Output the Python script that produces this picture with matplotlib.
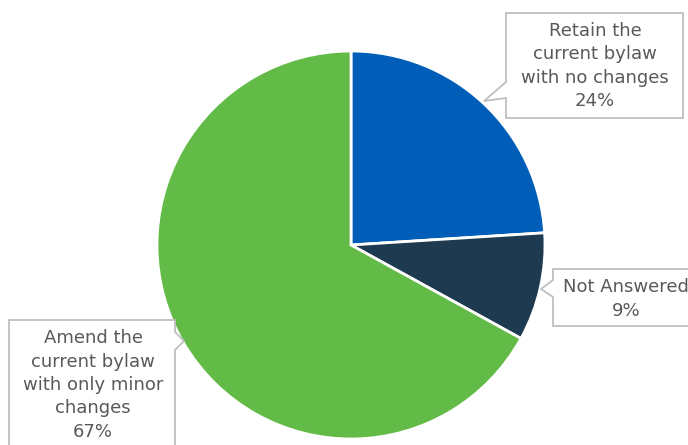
import matplotlib.pyplot as plt
from matplotlib.patches import Polygon

W, H = 688, 445

labels = ['Retain the\ncurrent bylaw\nwith no changes', 'Not Answered',
          'Amend the\ncurrent bylaw\nwith only minor\nchanges']
values = [24, 9, 67]
colors = ['#005EB8', '#1E3A51', '#62BB47']

fig = plt.figure(figsize=(W / 100, H / 100), dpi=100)
ax = fig.add_axes([0, 0, 1, 1])


def Y(y):
    # work in pixel rows counted from the top
    return H - y


ax.pie(values, colors=colors, startangle=90, counterclock=False,
       center=(351, Y(245)), radius=194,
       wedgeprops=dict(edgecolor='white', linewidth=2))


def callout(pts, text_xy, text):
    poly = Polygon([(x, Y(y)) for x, y in pts], closed=True,
                   facecolor='white', edgecolor='#BFBFBF', linewidth=1.3,
                   zorder=3)
    ax.add_patch(poly)
    ax.text(text_xy[0], Y(text_xy[1]), text, ha='center', va='center',
            fontsize=13, color='#595959', linespacing=1.38,
            family='DejaVu Sans', zorder=4)


# speech-bubble boxes with their pointers toward each slice
callout([(506, 13), (683, 13), (683, 118), (506, 118), (506, 98),
         (484, 101), (506, 82)],
        (595, 66), labels[0] + '\n%d%%' % values[0])
callout([(553, 269), (700, 269), (700, 326), (553, 326), (553, 297),
         (541, 289), (553, 280)],
        (626, 299), labels[1] + '\n%d%%' % values[1])
callout([(9, 320), (175, 320), (175, 332), (184, 341), (175, 350),
         (175, 460), (9, 460)],
        (93, 385), labels[2] + '\n%d%%' % values[2])

ax.set_xlim(0, W)
ax.set_ylim(0, H)
ax.set_aspect('equal')
ax.axis('off')

fig.savefig('out.png', dpi=100)
